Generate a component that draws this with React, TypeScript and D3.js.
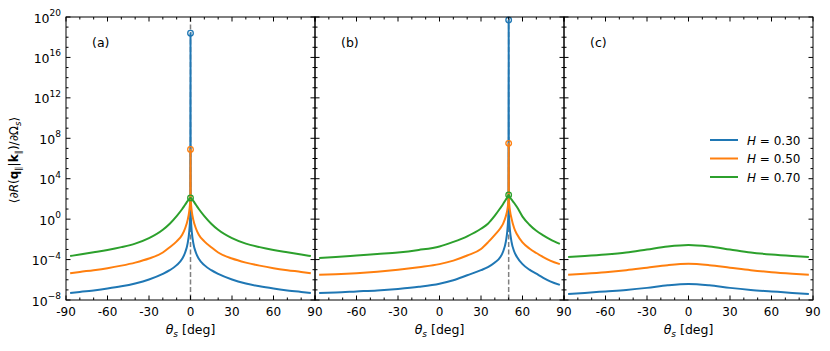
import React from "react";
import * as d3 from "d3";

// series colours and legend labels
const colors = ["#1f77b4", "#ff7f0e", "#2ca02c"];
const hLabels = ["0.30", "0.50", "0.70"];
const panelLabels = ["(a)", "(b)", "(c)"];
const peaks = [0, 50, null];

// values are log10 of <dR/dOmega_s>
const thetaA = [-87, -80, -70, -60, -50, -40, -30, -20, -15, -10, -6, -4, -2, -1, -0.4, -0.15, 0, 0.15, 0.4, 1, 2, 4, 6, 10, 15, 20, 30, 40, 50, 60, 70, 80, 87];
const blueA = [-7.3, -7.2, -7.05, -6.87, -6.65, -6.36, -5.97, -5.42, -5.05, -4.55, -3.92, -3.35, -2.35, -1.35, -0.25, 0.6, 18.4, 0.6, -0.25, -1.35, -2.35, -3.35, -3.92, -4.55, -5.05, -5.42, -5.97, -6.36, -6.65, -6.87, -7.05, -7.2, -7.3];
const orangeA = [-5.35, -5.22, -5.05, -4.85, -4.6, -4.3, -3.9, -3.3, -2.78, -2.2, -1.55, -0.95, -0.05, 0.7, 1.45, 1.95, 6.9, 1.95, 1.45, 0.7, -0.05, -0.95, -1.55, -2.2, -2.78, -3.3, -3.9, -4.3, -4.6, -4.85, -5.05, -5.22, -5.35];
const greenA = [-3.65, -3.5, -3.28, -3.05, -2.77, -2.42, -1.88, -1.05, -0.45, 0.3, 1.0, 1.4, 1.8, 1.98, 2.06, 2.09, 2.1, 2.09, 2.06, 1.98, 1.8, 1.4, 1.0, 0.3, -0.45, -1.05, -1.88, -2.42, -2.77, -3.05, -3.28, -3.5, -3.65];

const thetaB = [-87, -75, -60, -45, -30, -15, 0, 10, 20, 30, 35, 40, 44, 46, 48, 49, 49.6, 49.85, 50, 50.15, 50.4, 51, 52, 54, 56, 60, 65, 70, 75, 80, 87];
const blueB = [-7.3, -7.25, -7.15, -7.05, -6.9, -6.7, -6.4, -6.05, -5.55, -5.05, -4.75, -4.3, -3.75, -3.2, -2.2, -1.2, -0.1, 0.7, 19.7, 0.7, -0.1, -1.2, -2.2, -3.2, -3.75, -4.45, -5.0, -5.4, -5.8, -6.15, -6.5];
const orangeB = [-5.5, -5.45, -5.35, -5.2, -5.0, -4.75, -4.45, -4.1, -3.6, -2.95, -2.3, -1.55, -0.9, -0.45, 0.3, 0.9, 1.5, 2.0, 7.5, 2.0, 1.5, 0.8, 0.1, -0.9, -1.5, -2.3, -2.9, -3.35, -3.75, -4.1, -4.45];
const greenB = [-3.85, -3.75, -3.6, -3.45, -3.3, -3.05, -2.7, -2.25, -1.7, -0.95, -0.45, 0.35, 1.1, 1.5, 1.95, 2.15, 2.3, 2.35, 2.4, 2.35, 2.3, 2.15, 1.95, 1.6, 1.2, 0.25, -0.55, -1.15, -1.6, -2.0, -2.45];

const thetaC = [-87, -75, -60, -45, -30, -15, 0, 15, 30, 45, 60, 75, 87];
const blueC = [-7.4, -7.3, -7.15, -7.0, -6.8, -6.55, -6.42, -6.55, -6.8, -7.0, -7.15, -7.3, -7.4];
const orangeC = [-5.5, -5.4, -5.25, -5.05, -4.8, -4.55, -4.42, -4.55, -4.8, -5.05, -5.25, -5.4, -5.5];
const greenC = [-3.75, -3.65, -3.5, -3.3, -3.0, -2.7, -2.55, -2.7, -3.0, -3.3, -3.5, -3.65, -3.75];

const xTicks = [-90, -60, -30, 0, 30, 60, 90];

const panels = [
  { theta: thetaA, series: [blueA, orangeA, greenA] },
  { theta: thetaB, series: [blueB, orangeB, greenB] },
  { theta: thetaC, series: [blueC, orangeC, greenC] },
];

const W = 830, H = 351;
const top = 17, bottom = 300;
const left0 = 66, panelW = 249;
const font = "DejaVu Sans";

const y = d3.scaleLog().domain([1e-8, 1e20]).range([bottom, top]);
const decades = d3.range(-8, 21);
const minorX = d3.range(-90, 91, 10).filter(v => v % 30 !== 0);

const Panel = ({ idx }: { idx: number }) => {
  const p = panels[idx];
  const x0 = left0 + idx * panelW;
  const x = d3.scaleLinear().domain([-90, 90]).range([x0, x0 + panelW]);
  const line = d3.line<number>()
    .x((d, i) => x(p.theta[i]))
    .y(d => y(Math.pow(10, d)))
    .curve(d3.curveMonotoneX);
  const peak = peaks[idx];
  const pk = peak === null ? -1 : p.theta.indexOf(peak);
  const x1 = x0 + panelW;

  return (
    <g>
      {peak !== null && (
        <line x1={x(peak)} x2={x(peak)} y1={top} y2={bottom} stroke="#808080"
          strokeWidth={1.5} strokeDasharray="5,2.5" />
      )}
      {p.series.map((s, i) => (
        <path key={i} d={line(s) || ""} fill="none" stroke={colors[i]} strokeWidth={2} />
      ))}
      {pk >= 0 && p.series.map((s, i) => (
        <circle key={i} cx={x(p.theta[pk])} cy={y(Math.pow(10, s[pk]))} r={2.8}
          fill="none" stroke={colors[i]} strokeWidth={1.3} />
      ))}
      {/* x ticks, bottom and top, inward */}
      {xTicks.map(t => (
        <g key={t}>
          <line x1={x(t)} x2={x(t)} y1={bottom} y2={bottom - 4.5} stroke="#000" />
          <line x1={x(t)} x2={x(t)} y1={top} y2={top + 4.5} stroke="#000" />
          {(idx === 0 || t !== -90) && (
            <text x={x(t)} y={316} textAnchor="middle" fontSize={12} fontFamily={font}>{t}</text>
          )}
        </g>
      ))}
      {minorX.map(t => (
        <g key={t}>
          <line x1={x(t)} x2={x(t)} y1={bottom} y2={bottom - 2.5} stroke="#000" />
          <line x1={x(t)} x2={x(t)} y1={top} y2={top + 2.5} stroke="#000" />
        </g>
      ))}
      {/* y ticks, left and right, inward */}
      {decades.map(e => {
        const len = e % 4 === 0 ? 4.5 : 2.5;
        const yy = y(Math.pow(10, e));
        return (
          <g key={e}>
            <line x1={x0} x2={x0 + len} y1={yy} y2={yy} stroke="#000" />
            <line x1={x1} x2={x1 - len} y1={yy} y2={yy} stroke="#000" />
          </g>
        );
      })}
      <rect x={x0} y={top} width={panelW} height={bottom - top} fill="none" stroke="#000" strokeWidth={1} />
      <text x={x0 + 26} y={47} fontSize={12.5} fontFamily={font}>{panelLabels[idx]}</text>
      <text x={(x0 + x1) / 2} y={334} textAnchor="middle" fontSize={12.5} fontFamily={font}>
        <tspan fontStyle="italic">θ</tspan>
        <tspan fontStyle="italic" fontSize={9} dy={3}>s</tspan>
        <tspan dy={-3}> [deg]</tspan>
      </text>
    </g>
  );
};

export default function App() {
  const legendX = 710;
  const legendY = [140, 158.5, 177];
  return (
    <svg width={W} height={H} style={{ position: "absolute", left: 0, top: 0, background: "#fff" }}>
      {panels.map((_, i) => <Panel key={i} idx={i} />)}
      {/* y tick labels on panel (a) */}
      {decades.filter(e => e % 4 === 0).map(e => (
        <text key={e} x={61} y={y(Math.pow(10, e)) + 5.5} textAnchor="end" fontSize={12.5} fontFamily={font}>
          10<tspan dy={-6.5} fontSize={9}>{e < 0 ? "\u2212" + Math.abs(e) : e}</tspan>
        </text>
      ))}
      <text transform="translate(18,160) rotate(-90)" textAnchor="middle" fontSize={12} fontFamily={font}>
        ⟨∂<tspan fontStyle="italic">R</tspan>(<tspan fontWeight="bold">q</tspan>
        <tspan fontSize={8.5} dy={3}>∥</tspan>
        <tspan dy={-3}>|</tspan><tspan fontWeight="bold">k</tspan>
        <tspan fontSize={8.5} dy={3}>∥</tspan>
        <tspan dy={-3}>)/∂Ω</tspan>
        <tspan fontSize={8.5} fontStyle="italic" dy={3}>s</tspan>
        <tspan dy={-3}>⟩</tspan>
      </text>
      {/* legend */}
      {hLabels.map((h, i) => (
        <g key={h}>
          <line x1={legendX} x2={legendX + 28} y1={legendY[i]} y2={legendY[i]} stroke={colors[i]} strokeWidth={2} />
          <text x={legendX + 37} y={legendY[i] + 4.5} fontSize={12} fontFamily={font}>
            <tspan fontStyle="italic">H</tspan> = {h}
          </text>
        </g>
      ))}
    </svg>
  );
}
